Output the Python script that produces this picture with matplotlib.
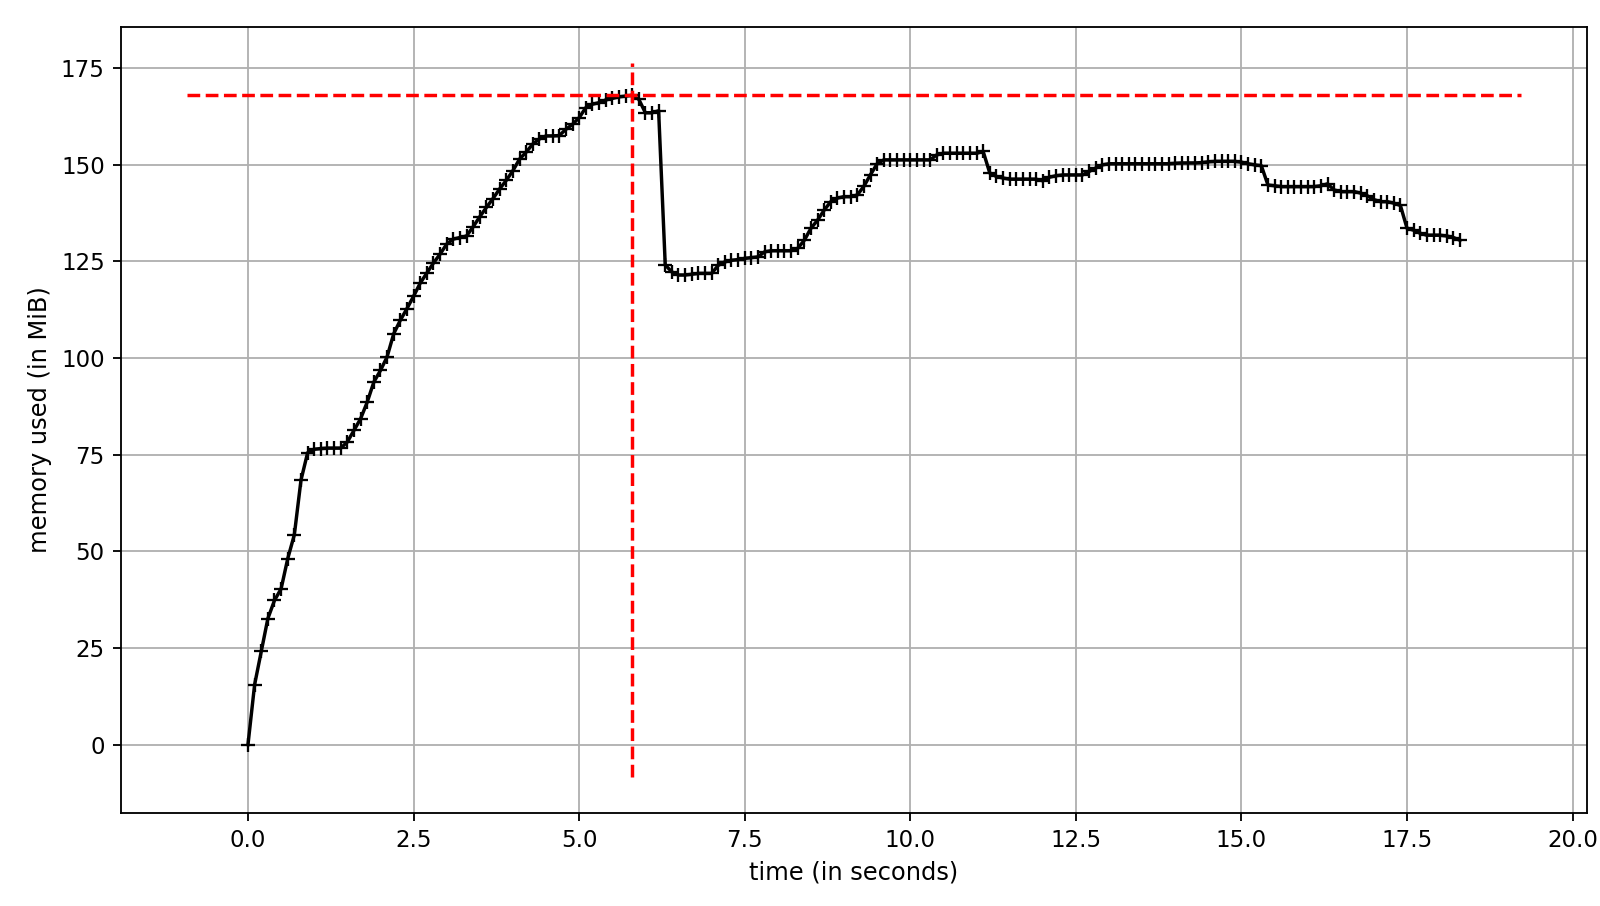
import matplotlib
matplotlib.use("Agg")
import matplotlib.pyplot as plt
from matplotlib.ticker import MultipleLocator

# memory samples (MiB), one every sample_interval seconds
sample_interval = 0.1
mem_usage = [
    0.0, 15.5, 24.1, 32.6, 37.3, 40.3, 48.1, 54.3, 68.4, 75.5,
    76.4, 76.6, 76.7, 76.7, 76.7, 78.3, 81.3, 84.3, 88.6, 93.8,
    96.8, 100.3, 106.3, 109.8, 112.8, 116.0, 119.4, 122.0, 124.6, 126.9,
    129.5, 130.8, 131.2, 131.6, 134.0, 136.6, 139.0, 141.3, 143.8, 146.0,
    148.5, 151.5, 153.3, 155.4, 156.7, 157.5, 157.5, 157.6, 159.2, 160.5,
    162.2, 164.8, 165.7, 166.1, 166.8, 167.2, 167.6, 167.8, 168.0, 167.0,
    163.5, 163.5, 164.0, 124.1, 122.3, 121.5, 121.5, 121.7, 121.9, 121.9,
    121.9, 124.0, 124.9, 125.3, 125.5, 125.8, 126.0, 126.2, 127.5, 127.8,
    127.8, 127.8, 127.8, 128.4, 130.5, 133.6, 135.7, 138.3, 140.5, 141.4,
    141.8, 141.8, 142.2, 144.5, 147.5, 150.3, 151.3, 151.3, 151.3, 151.3,
    151.3, 151.3, 151.3, 151.3, 152.6, 153.0, 153.0, 153.0, 153.0, 153.0,
    153.0, 153.5, 147.9, 147.0, 146.6, 146.3, 146.3, 146.3, 146.3, 146.3,
    145.9, 146.8, 147.2, 147.4, 147.4, 147.4, 147.4, 148.3, 149.2, 150.0,
    150.3, 150.3, 150.3, 150.3, 150.3, 150.3, 150.3, 150.3, 150.3, 150.3,
    150.4, 150.5, 150.5, 150.5, 150.6, 150.8, 150.9, 150.9, 150.9, 150.9,
    150.7, 150.3, 150.0, 149.8, 144.8, 144.6, 144.4, 144.4, 144.4, 144.4,
    144.4, 144.4, 144.6, 145.1, 143.5, 143.1, 143.1, 143.1, 142.7, 142.0,
    141.0, 140.5, 140.5, 140.1, 139.5, 133.6, 133.1, 132.3, 131.8, 131.8,
    131.8, 131.6, 131.2, 130.5,
]
t = [i * sample_interval for i in range(len(mem_usage))]

dpi = 165
fig = plt.figure(figsize=(1600 / dpi, 906 / dpi), dpi=dpi)
ax = fig.add_axes([0.0755, 0.103, 0.9165, 0.867])

ax.plot(t, mem_usage, "+-k")

# max memory markers, same way mprof draws them
max_mem = max(mem_usage)
max_ind = mem_usage.index(max_mem)
xlo, xhi = ax.get_xlim()
ax.hlines(max_mem, xlo + 0.001, xhi - 0.001, colors="r", linestyles="--")
ylo, yhi = ax.get_ylim()
ax.vlines(t[max_ind], ylo + 0.001, yhi - 0.001, colors="r", linestyles="--")

ax.xaxis.set_major_locator(MultipleLocator(2.5))
ax.yaxis.set_major_locator(MultipleLocator(25))
ax.grid(True)
ax.set_xlabel("time (in seconds)", fontsize=10.5)
ax.set_ylabel("memory used (in MiB)", fontsize=10.5)

fig.savefig("out.png", dpi=dpi)
